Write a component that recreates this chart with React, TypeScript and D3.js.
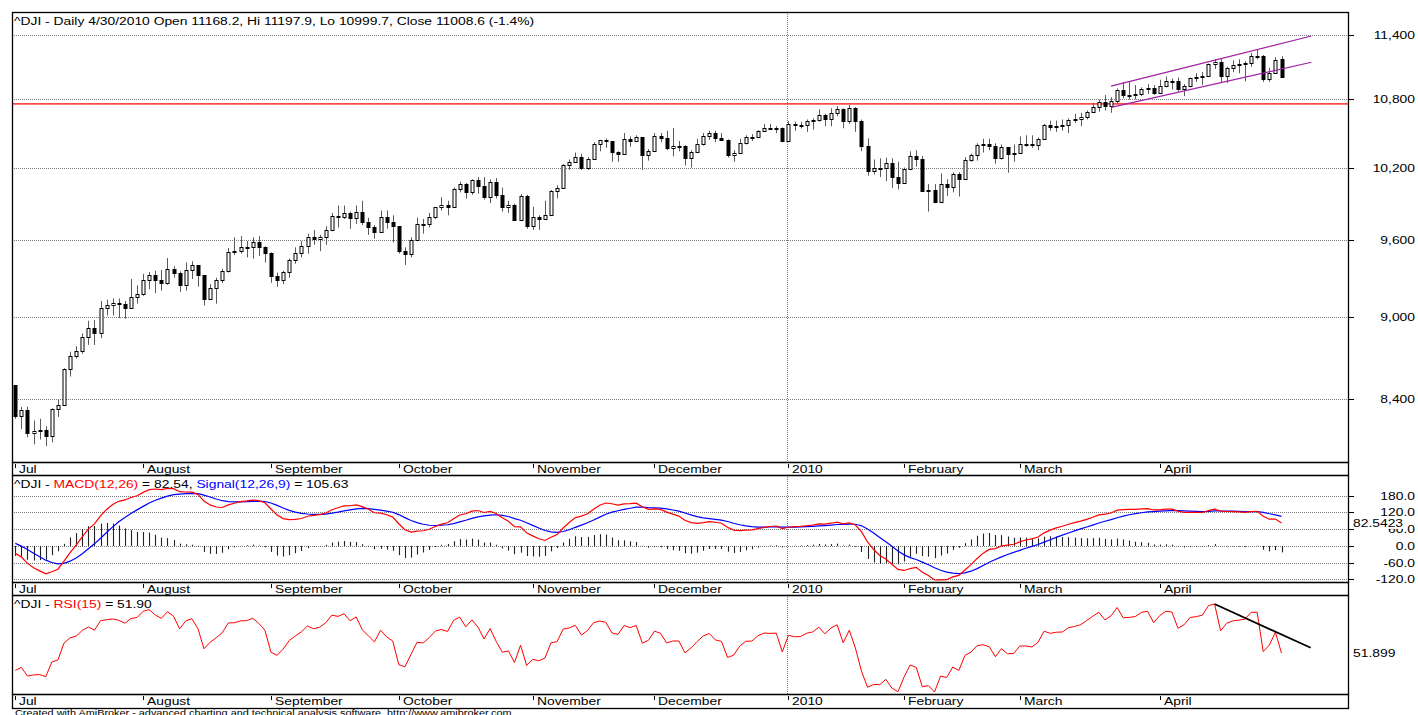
import React from 'react';
import * as d3 from 'd3';

// ---------- DATA ----------
const openP = [
  8497,8280,8324,8163,8178,8183,8146,8331,8359,8616,8711,8743,8848,8916,8881,9069,9093,9108,9096,9070,9154,
  9172,9286,9320,9280,9256,9370,9337,9241,9362,9398,9321,9135,9217,9279,9350,9505,9509,9539,9543,9580,9544,
  9496,9310,9280,9344,9441,9497,9547,9627,9605,9626,9683,9791,9783,9820,9778,9829,9748,9707,9665,9789,9742,
  9712,9509,9487,9599,9731,9725,9786,9865,9885,9871,10015,10062,9995,10092,10041,9949,10081,9972,9868,9882,9762,9962,
  9712,9789,9771,9802,10005,10023,10226,10247,10291,10197,10270,10406,10437,10426,10332,10318,10450,10433,10464,10310,
  10345,10471,10452,10366,10389,10390,10286,10337,10405,10471,10501,10452,10441,10308,10328,10414,10464,10466,10520,10547,10545,10548,
  10428,10583,10572,10574,10606,10618,10663,10627,10680,10710,10609,10725,10603,10389,10172,10196,10194,10236,10120,
  10067,10185,10297,10270,10002,10012,9908,10058,10038,10144,10099,10268,10309,10392,10402,10383,10282,10374,10321,
  10325,10404,10406,10397,10444,10567,10552,10564,10567,10611,10625,10642,10686,10733,10779,10742,10785,10888,10836,10841,10850,10895,10907,
  10857,10927,10973,10970,10897,10927,10997,11005,11019,11123,11144,11019,11092,11117,11124,11134,11204,11205,10991,11045,11168.2
];
const highP = [
  8500,8345,8346,8250,8262,8210,8335,8395,8620,8740,8780,8875,8970,8975,9120,9130,9140,9140,9120,9290,9240,
  9330,9345,9355,9360,9455,9390,9350,9420,9430,9400,9321,9250,9300,9370,9535,9620,9630,9590,9620,9630,9548,
  9500,9340,9355,9450,9540,9590,9650,9680,9640,9710,9820,9880,9880,9830,9880,9920,9780,9720,9840,9840,9800,
  9712,9540,9620,9780,9770,9820,9870,9950,9920,10030,10080,10070,10100,10120,10120,10100,10110,10030,9920,9895,9975,9970,
  9870,9800,9920,10010,10050,10230,10270,10330,10320,10290,10420,10440,10450,10430,10340,10500,10470,10480,10465,10360,
  10500,10500,10520,10545,10430,10395,10350,10450,10500,10520,10520,10500,10445,10350,10450,10480,10490,10525,10580,10580,10560,10550,
  10605,10600,10600,10620,10630,10710,10670,10720,10740,10720,10751,10730,10620,10453,10270,10280,10285,10280,10250,
  10200,10340,10350,10300,10060,10060,10150,10100,10160,10160,10290,10320,10410,10450,10450,10410,10400,10374,10400,
  10470,10480,10480,10460,10580,10610,10610,10620,10630,10670,10680,10700,10770,10800,10840,10820,10900,10960,10958,10930,10910,10940,10930,
  10980,11010,10990,11000,10940,11000,11040,11050,11130,11170,11180,11100,11160,11170,11150,11230,11258,11210,11090,11190,11197.9
];
const lowP = [
  8262,8190,8135,8087,8120,8075,8100,8275,8359,8560,8690,8725,8790,8790,8840,9010,9010,8990,8985,9070,9100,
  9160,9210,9180,9200,9245,9300,9190,9200,9290,9230,9085,9130,9100,9260,9340,9480,9490,9460,9450,9470,9420,
  9260,9230,9250,9300,9410,9460,9490,9560,9510,9560,9670,9700,9770,9690,9730,9720,9640,9610,9655,9690,9580,
  9490,9400,9460,9595,9650,9700,9770,9840,9800,9870,9990,9940,9970,9980,9930,9900,9940,9830,9820,9755,9760,9690,
  9680,9680,9760,9800,9940,10020,10180,10240,10180,10180,10265,10340,10370,10250,10250,10315,10380,10420,10180,10260,
  10340,10420,10350,10297,10340,10217,10200,10330,10390,10440,10420,10430,10286,10250,10320,10400,10430,10460,10510,10530,10500,10420,
  10428,10520,10540,10510,10530,10600,10560,10560,10650,10542,10580,10511,10341,10132,10140,10120,10085,10028,10014,
  10060,10180,10208,9995,9830,9900,9900,9960,9990,9955,10099,10250,10260,10330,10350,10234,10270,10156,10250,
  10320,10380,10370,10350,10440,10520,10510,10520,10500,10590,10560,10620,10680,10690,10700,10680,10760,10810,10800,10800,10830,10850,10840,
  10850,10910,10890,10870,10830,10910,10960,10930,11010,11080,10952,10950,11050,11040,10966,11100,11170,10960,10960,11040,10999.7
];
const closeP = [
  8280,8324,8163,8178,8183,8146,8331,8359,8616,8711,8743,8848,8916,8881,9069,9093,9108,9096,9070,9154,9172,
  9286,9320,9280,9256,9370,9337,9241,9362,9398,9321,9135,9217,9279,9350,9505,9509,9539,9543,9580,9544,9496,
  9310,9280,9344,9441,9497,9547,9627,9605,9626,9683,9791,9783,9820,9778,9829,9748,9707,9665,9789,9742,9712,
  9509,9487,9599,9731,9725,9786,9865,9885,9871,10015,10062,9995,10092,10041,9949,10081,9972,9868,9882,9762,9962,9712,
  9789,9771,9802,10005,10023,10226,10247,10291,10197,10270,10406,10437,10426,10332,10318,10450,10433,10464,10310,10345,
  10471,10452,10366,10389,10390,10286,10337,10405,10471,10501,10452,10441,10308,10328,10414,10464,10466,10520,10547,10545,10548,10428,
  10583,10572,10574,10606,10618,10663,10627,10680,10710,10609,10725,10603,10389,10172,10196,10194,10236,10120,10067,
  10185,10297,10270,10002,10012,9908,10058,10038,10144,10099,10268,10309,10392,10402,10383,10282,10374,10321,10325,
  10404,10406,10397,10444,10567,10552,10564,10567,10611,10625,10642,10686,10733,10779,10742,10785,10888,10836,10841,10850,10895,10907,10857,
  10927,10973,10970,10897,10927,10997,11005,11019,11123,11144,11019,11092,11117,11124,11134,11204,11205,10991,11045,11167.3,11008.6
];

const monthLabels = ['Jul', 'August', 'September', 'October', 'November', 'December', '2010', 'February', 'March', 'April'];
const monthStartIdx = [0, 21, 42, 63, 85, 105, 127, 146, 165, 188];
const yearStartIdx = 127;

const priceTicks = [8400, 9000, 9600, 10200, 10800, 11400];
const priceTickLabels = ['8,400', '9,000', '9,600', '10,200', '10,800', '11,400'];
const macdTicks = [180, 120, 60, 0, -60, -120];
const macdTickLabels = ['180.0', '120.0', '60.0', '0.0', '-60.0', '-120.0'];

const supportLevel = 10760;
const channelUpper = [[180, 10922], [212.9, 11390]];
const channelLower = [[180, 10729], [212.9, 11142]];
const rsiTrend = [[197, 75.5], [212.8, 54.5]];

// indicator state on the day before the first visible bar
const prevCloseBefore = 8504;
const macdSeed = { ema12: 8555, ema26: 8560, signal: 18 };
const rsiSeed = { avgGain: 55, avgLoss: 55 };

const titlePrice = '^DJI - Daily 4/30/2010 Open 11168.2, Hi 11197.9, Lo 10999.7, Close 11008.6 (-1.4%)';
const macdValueText = '82.54';
const signalValueText = '105.63';
const macdLastValue = 82.5423;
const macdLastLabel = '82.5423';
const rsiValueText = '51.90';
const rsiLastValue = 51.899;
const rsiLastLabel = '51.899';
const footerText = 'Created with AmiBroker - advanced charting and technical analysis software. http://www.amibroker.com';

// ---------- LAYOUT ----------
const L = 12, R = 1348;
const PP = { top: 12, bottom: 462 };
const MP = { top: 475, bottom: 582 };
const RP = { top: 595, bottom: 694 };
const strips = [[462, 475], [582, 595], [694, 708]];
const SX = 1.26;
const FONT = "Arial, 'Liberation Sans', Helvetica, sans-serif";

function Txt({ x, y, anchor = 'start', size = 11, fill = '#000', scaleX = SX, children }: any) {
  return (
    <g transform={`translate(${x},${y}) scale(${scaleX},1)`}>
      <text x={0} y={0} textAnchor={anchor} fontSize={size} fill={fill} fontFamily={FONT}>{children}</text>
    </g>
  );
}

export default function App() {
  const n = closeP.length;
  const x = d3.scaleLinear().domain([0, n - 1]).range([15.3, 1281.5]);
  const sx = (i: number) => Math.round(x(i)) + 0.5;
  const yP = d3.scaleLog().domain([7968, 11622]).range([PP.bottom, PP.top]);
  const yM = d3.scaleLinear().domain([-129, 254]).range([MP.bottom, MP.top]);

  // MACD(12,26), Signal 9
  const macd: number[] = [], signal: number[] = [], hist: number[] = [];
  let e12 = macdSeed.ema12, e26 = macdSeed.ema26, sg = macdSeed.signal;
  closeP.forEach((c) => {
    e12 += (c - e12) * (2 / 13);
    e26 += (c - e26) * (2 / 27);
    const m = e12 - e26;
    sg += (m - sg) * (2 / 10);
    macd.push(m); signal.push(sg); hist.push(m - sg);
  });
  // RSI(15) Wilder
  const rsi: number[] = [];
  let ag = rsiSeed.avgGain, al = rsiSeed.avgLoss, prev = prevCloseBefore;
  closeP.forEach((c) => {
    const d = c - prev;
    ag = (ag * 14 + Math.max(d, 0)) / 15;
    al = (al * 14 + Math.max(-d, 0)) / 15;
    rsi.push(100 - 100 / (1 + ag / al));
    prev = c;
  });
  const [rMin, rMax] = d3.extent(rsi) as [number, number];
  const yR = d3.scaleLinear().domain([rMin, rMax]).range([692, 604]);

  const macdLine = d3.line<number>().x((_, i) => x(i)).y((d) => yM(d));
  const rsiLine = d3.line<number>().x((_, i) => x(i)).y((d) => yR(d));

  const dotted = { stroke: '#7a7a7a', strokeWidth: 1, strokeDasharray: '1,1' };
  const yearX = sx(yearStartIdx) - 1;

  const monthStrip = (top: number, key: string) => (
    <g key={key}>
      {monthStartIdx.map((mi, k) => (
        <g key={k}>
          <line x1={sx(mi)} x2={sx(mi)} y1={top + 2} y2={top + 6} stroke="#000" strokeWidth={1} />
          <Txt x={sx(mi) + 3.5} y={top + 11}>{monthLabels[k]}</Txt>
        </g>
      ))}
    </g>
  );

  return (
    <svg width={1418} height={715} style={{ position: 'absolute', left: 0, top: 0, background: '#fff' }}>
      <rect x={0} y={0} width={1418} height={715} fill="#fff" />
      {/* ---------- PRICE PANE ---------- */}
      {priceTicks.map((t, k) => (
        <g key={k}>
          <line x1={L} x2={R} y1={Math.round(yP(t)) + 0.5} y2={Math.round(yP(t)) + 0.5} {...dotted} />
          <line x1={R} x2={R + 6} y1={Math.round(yP(t)) + 0.5} y2={Math.round(yP(t)) + 0.5} stroke="#000" />
          <Txt x={1415} y={yP(t) + 4} anchor="end">{priceTickLabels[k]}</Txt>
        </g>
      ))}
      <line x1={yearX} x2={yearX} y1={PP.top} y2={PP.bottom} {...dotted} />
      <line x1={L} x2={R} y1={yP(supportLevel)} y2={yP(supportLevel)} stroke="#ff4a4a" strokeWidth={1.8} />
      {closeP.map((c, i) => {
        const cx = sx(i);
        const o = openP[i];
        const up = c >= o;
        const yt = Math.round(yP(Math.max(o, c))) + 0.5;
        const yb = Math.round(yP(Math.min(o, c))) + 0.5;
        return (
          <g key={i}>
            <line x1={cx} x2={cx} y1={yP(highP[i])} y2={yP(lowP[i])} stroke="#5a5a5a" strokeWidth={1} />
            <rect x={cx - 1.5} y={yt} width={3} height={Math.max(1, yb - yt)} fill={up ? '#fff' : '#000'} stroke="#000" strokeWidth={1} />
          </g>
        );
      })}
      {[channelUpper, channelLower].map((ch, k) => (
        <line key={k} x1={x(ch[0][0])} y1={yP(ch[0][1])} x2={x(ch[1][0])} y2={yP(ch[1][1])} stroke="#a020a8" strokeWidth={1.2} />
      ))}
      <Txt x={14} y={25}>{titlePrice}</Txt>

      {/* ---------- MACD PANE ---------- */}
      {macdTicks.map((t, k) => (
        <g key={k}>
          <line x1={L} x2={R} y1={Math.round(yM(t)) + 0.5} y2={Math.round(yM(t)) + 0.5} {...dotted} />
          <line x1={R} x2={R + 6} y1={Math.round(yM(t)) + 0.5} y2={Math.round(yM(t)) + 0.5} stroke="#000" />
          <Txt x={1415} y={yM(t) + 4} anchor="end">{macdTickLabels[k]}</Txt>
        </g>
      ))}
      <line x1={yearX} x2={yearX} y1={MP.top} y2={MP.bottom} {...dotted} />
      {hist.map((h, i) => (
        <line key={i} x1={sx(i)} x2={sx(i)} y1={yM(0)} y2={yM(h)} stroke="#222" strokeWidth={1.1} />
      ))}
      <path d={macdLine(signal) || ''} fill="none" stroke="#0000ff" strokeWidth={1.2} />
      <path d={macdLine(macd) || ''} fill="none" stroke="#ff0000" strokeWidth={1.2} />
      <rect x={1352} y={yM(macdLastValue) - 6} width={52} height={12} fill="#fff" />
      <Txt x={1353} y={yM(macdLastValue) + 4}>{macdLastLabel}</Txt>
      <g transform={`translate(14,487.5) scale(${SX},1)`}>
        <text x={0} y={0} fontSize={11} fontFamily={FONT}>
          <tspan fill="#000">^DJI - </tspan>
          <tspan fill="#ff0000">MACD(12,26)</tspan>
          <tspan fill="#000">{` = ${macdValueText}, `}</tspan>
          <tspan fill="#0000ff">Signal(12,26,9)</tspan>
          <tspan fill="#000">{` = ${signalValueText}`}</tspan>
        </text>
      </g>

      {/* ---------- RSI PANE ---------- */}
      <line x1={yearX} x2={yearX} y1={RP.top} y2={RP.bottom} {...dotted} />
      <path d={rsiLine(rsi) || ''} fill="none" stroke="#ff0000" strokeWidth={1} />
      <line x1={x(rsiTrend[0][0])} y1={yR(rsiTrend[0][1])} x2={x(rsiTrend[1][0])} y2={yR(rsiTrend[1][1])} stroke="#000" strokeWidth={1.8} />
      <Txt x={1353} y={yR(rsiLastValue) + 4}>{rsiLastLabel}</Txt>
      <g transform={`translate(14,607.5) scale(${SX},1)`}>
        <text x={0} y={0} fontSize={11} fontFamily={FONT}>
          <tspan fill="#000">^DJI - </tspan>
          <tspan fill="#ff0000">RSI(15)</tspan>
          <tspan fill="#000">{` = ${rsiValueText}`}</tspan>
        </text>
      </g>

      {/* ---------- FRAMES & DATE STRIPS ---------- */}
      {[PP, MP, RP].map((p, k) => (
        <rect key={k} x={L + 0.5} y={p.top + 0.5} width={R - L} height={p.bottom - p.top} fill="none" stroke="#000" strokeWidth={1.3} />
      ))}
      {strips.map((s, k) => (
        <g key={k}>
          <rect x={L + 0.5} y={s[0] + 0.5} width={R - L} height={s[1] - s[0]} fill="none" stroke="#000" strokeWidth={1.3} />
          {monthStrip(s[0], 'm' + k)}
        </g>
      ))}
      <Txt x={15} y={715.5} size={9} scaleX={1.21}>{footerText}</Txt>
    </svg>
  );
}
